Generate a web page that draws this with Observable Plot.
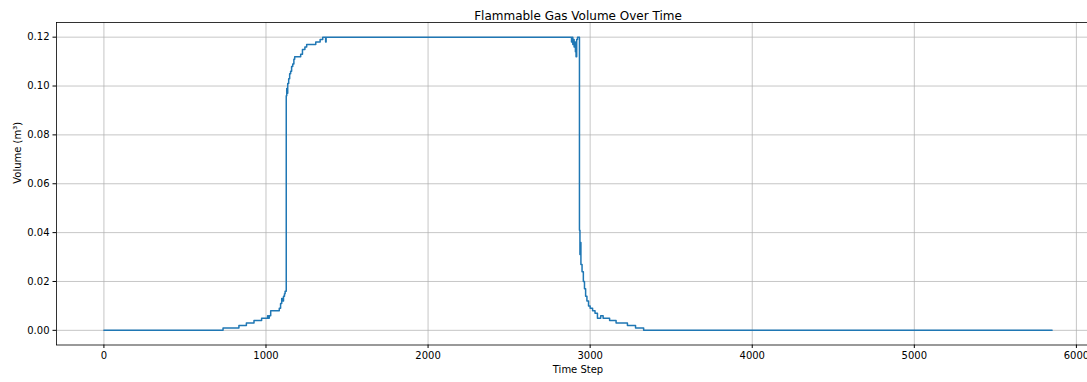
<!DOCTYPE html>
<html>
<head>
<meta charset="utf-8">
<script src="https://cdn.jsdelivr.net/npm/d3@7"></script>
<script src="https://cdn.jsdelivr.net/npm/@observablehq/plot@0.6"></script>
<style>
  html, body { margin: 0; padding: 0; background: #fff; overflow: hidden; }
  #chart { width: 1087px; height: 382px; overflow: hidden; }
  #chart svg { max-width: none !important; height: 382px !important; width: 1110px !important; display: block; }
</style>
</head>
<body>
<div id="chart"></div>
<script>
const titleText = "Flammable Gas Volume Over Time";
const xLabel = "Time Step";
const yLabel = "Volume (m³)";
const xTicks = [0, 1000, 2000, 3000, 4000, 5000, 6000];
const yTicks = [0, 0.02, 0.04, 0.06, 0.08, 0.10, 0.12];

const timeSteps = [
  0, 735, 833, 879, 926, 973, 1000, 1010, 1015, 1020, 1029,
  1082, 1090, 1097, 1104, 1108, 1114, 1118, 1125, 1128, 1131, 1134,
  1140, 1146, 1152, 1158, 1165, 1172, 1177, 1214, 1225, 1240, 1251,
  1307, 1334, 1350, 1368, 1371,
  2885, 2889, 2893, 2897, 2901, 2905, 2909, 2913, 2917, 2922,
  2934, 2937, 2940, 2943, 2950, 2958, 2965, 2972, 2980, 2990, 3000,
  3015, 3030, 3045, 3065, 3080, 3120, 3160, 3230, 3280, 3330, 5850
];
const volumes = [
  0, 0.001, 0.002, 0.003, 0.004, 0.005, 0.005, 0.006, 0.005, 0.006, 0.008,
  0.009, 0.011, 0.013, 0.012, 0.014, 0.015, 0.016, 0.096, 0.099, 0.097, 0.101,
  0.103, 0.105, 0.106, 0.108, 0.109, 0.111, 0.112, 0.113, 0.115, 0.116, 0.117,
  0.118, 0.119, 0.120, 0.118, 0.120,
  0.118, 0.120, 0.117, 0.119, 0.116, 0.118, 0.114, 0.112, 0.119, 0.120,
  0.041, 0.031, 0.036, 0.027, 0.024, 0.020, 0.017, 0.014, 0.012, 0.010, 0.009,
  0.008, 0.007, 0.005, 0.006, 0.005, 0.004, 0.003, 0.002, 0.001, 0, 0
];

const data = timeSteps.map((t, i) => ({t, v: volumes[i]}));

const W = 1110, H = 382;
const chart = Plot.plot({
  width: W,
  height: H,
  marginLeft: 56,
  marginRight: 11,
  marginTop: 22,
  marginBottom: 37.5,
  style: {fontFamily: "DejaVu Sans, sans-serif", fontSize: "10px", color: "#000", background: "#fff"},
  x: {domain: [-292.5, 6142.5]},
  y: {domain: [-0.006, 0.126]},
  marks: [
    Plot.gridX(xTicks, {stroke: "#b0b0b0", strokeOpacity: 0.8, strokeWidth: 0.9}),
    Plot.gridY(yTicks, {stroke: "#b0b0b0", strokeOpacity: 0.8, strokeWidth: 0.9}),
    Plot.axisX(xTicks, {tickSize: 3.5, tickPadding: 3.5, label: null, fontSize: 10, tickFormat: d => String(d)}),
    Plot.axisY(yTicks, {tickSize: 3.5, tickPadding: 3.5, label: null, fontSize: 10, tickFormat: d => d.toFixed(2)}),
    Plot.line(data, {x: "t", y: "v", curve: "step-after", stroke: "#1f77b4", strokeWidth: 1.5}),
    Plot.frame({stroke: "#000", strokeWidth: 0.8}),
    Plot.text([titleText], {text: d => d, frameAnchor: "top", dy: -11, fontSize: 12, fill: "#000"}),
    Plot.text([xLabel], {text: d => d, frameAnchor: "bottom", dy: 28, fontSize: 10, fill: "#000"}),
    Plot.text([yLabel], {text: d => d, frameAnchor: "left", dx: -39, rotate: -90, fontSize: 10, fill: "#000"})
  ]
});
document.getElementById("chart").appendChild(chart);
</script>
</body>
</html>
